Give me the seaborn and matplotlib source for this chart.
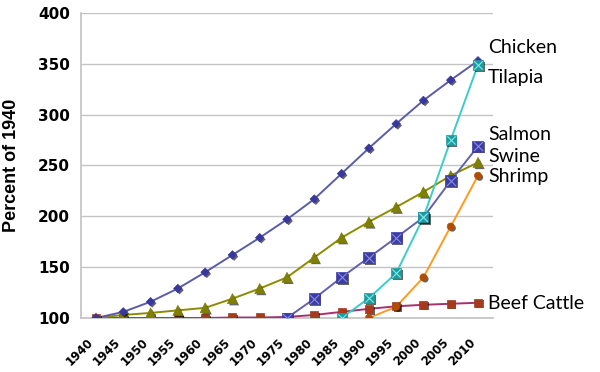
import numpy as np
import pandas as pd
import matplotlib
matplotlib.use("Agg")
import matplotlib.pyplot as plt
import matplotlib.patheffects as pe
import matplotlib.transforms as mtrans
import seaborn as sns

years = [1940, 1945, 1950, 1955, 1960, 1965, 1970, 1975, 1980, 1985, 1990, 1995, 2000, 2005, 2010]
nan = np.nan
chicken = [100, 106, 116, 129, 145, 162, 179, 197, 217, 242, 267, 291, 314, 334, 353]
swine = [100, 103, 105, 107.5, 110, 119, 129, 140, 159.5, 179, 194.5, 209, 224, 240, 253]
beef = [100, 100, 100, 100, 100, 100.5, 100.5, 101, 103, 106, 109, 111.5, 113, 114, 115]
salmon = [nan, nan, nan, nan, nan, nan, nan, 100, 119, 140, 159.5, 179, 199, 235, 269]
tilapia = [nan, nan, nan, nan, nan, nan, nan, nan, nan, 100, 119.5, 144, 199, 275, 349]
shrimp = [nan, nan, nan, nan, nan, nan, nan, nan, nan, nan, 100, 111, 140, 190, 240]
series_names = ["Chicken", "Swine", "Beef Cattle", "Salmon", "Tilapia", "Shrimp"]
label_y = {"Chicken": 366, "Tilapia": 337, "Salmon": 280, "Swine": 259, "Shrimp": 239, "Beef Cattle": 114}
yticks = [100, 150, 200, 250, 300, 350, 400]

data = {"Chicken": chicken, "Swine": swine, "Beef Cattle": beef,
        "Salmon": salmon, "Tilapia": tilapia, "Shrimp": shrimp}

# style: (line color, marker, marker face, marker size px, X overlay color)
styles = {
    "Beef Cattle": ("#a8306c", "s", "#a33b1c", 8, None),
    "Swine": ("#8c8c00", "^", "#7f7f00", 10, None),
    "Chicken": ("#5b5ca8", "D", "#38389c", 6, None),
    "Salmon": ("#6262aa", "s", "#3c3ca6", 11, "#8a8ae0"),
    "Tilapia": ("#3acccc", "s", "#1c9d9d", 10, "#7fe8e8"),
    "Shrimp": ("#ff9a1e", "o", "#b34c02", 7, None),
}

sns.set_theme(style="white")
plt.rcParams["font.family"] = ["Lato", "DejaVu Sans"]

fig = plt.figure(figsize=(6.0, 3.72), dpi=100)
ax = fig.add_axes([81 / 600, 1 - 318 / 372, (493 - 81) / 600, (318 - 13) / 372])

df = pd.DataFrame({"year": years, **data})

order = ["Beef Cattle", "Swine", "Chicken", "Salmon", "Tilapia", "Shrimp"]
shadow = [pe.SimplePatchShadow(offset=(1.2, -1.2), shadow_rgbFace="black", alpha=0.6), pe.Normal()]
for name in order:
    lc, mk, mf, ms, xc = styles[name]
    sub = df[["year", name]].dropna()
    sns.lineplot(data=sub, x="year", y=name, color=lc, linewidth=1.4, ax=ax, zorder=3)
    sns.scatterplot(data=sub, x="year", y=name, marker=mk, s=(ms * 0.72) ** 2,
                    color=mf, edgecolor=mf, linewidth=0.5, ax=ax, zorder=4,
                    path_effects=shadow)
    if xc is not None:
        sns.scatterplot(data=sub, x="year", y=name, marker="x", s=(ms * 0.6) ** 2,
                        color=xc, linewidth=0.8, ax=ax, zorder=5)

ax.set_xlim(1937.25, 2012.75)
ax.set_ylim(100, 400)
ax.set_yticks(yticks)
ax.set_yticklabels([str(v) for v in yticks], fontsize=11, fontweight="bold",
                   color="black", family="DejaVu Sans")
ax.set_xticks(years)
ax.set_xticklabels([str(y) for y in years], rotation=45, ha="right", va="top",
                   rotation_mode="anchor", fontsize=8.5, fontweight="bold",
                   color="black", family="DejaVu Sans")
ax.tick_params(axis="x", length=0, pad=13)
ax.tick_params(axis="y", length=0, pad=8)
offset = mtrans.ScaledTranslation(-9 / 100, 0, fig.dpi_scale_trans)
for lbl in ax.get_xticklabels():
    lbl.set_transform(lbl.get_transform() + offset)
ax.yaxis.grid(True, color="#c4c4c4", linewidth=1.0)
ax.xaxis.grid(False)
for s in ["top", "right"]:
    ax.spines[s].set_visible(False)
ax.spines["left"].set_color("#c4c4c4")
ax.spines["bottom"].set_color("#c4c4c4")
ax.set_xlabel("")
ax.set_ylabel("Percent of 1940", fontsize=13, fontweight="bold",
              family="Liberation Sans", color="black")
ax.yaxis.set_label_coords(-0.148, 0.5)

trans = mtrans.blended_transform_factory(ax.transAxes, ax.transData)
for name in series_names:
    ax.text((488 - 81) / 412, label_y[name], name, transform=trans, fontsize=14,
            ha="left", va="center", color="black", clip_on=False)

fig.savefig("out.png", dpi=100)
